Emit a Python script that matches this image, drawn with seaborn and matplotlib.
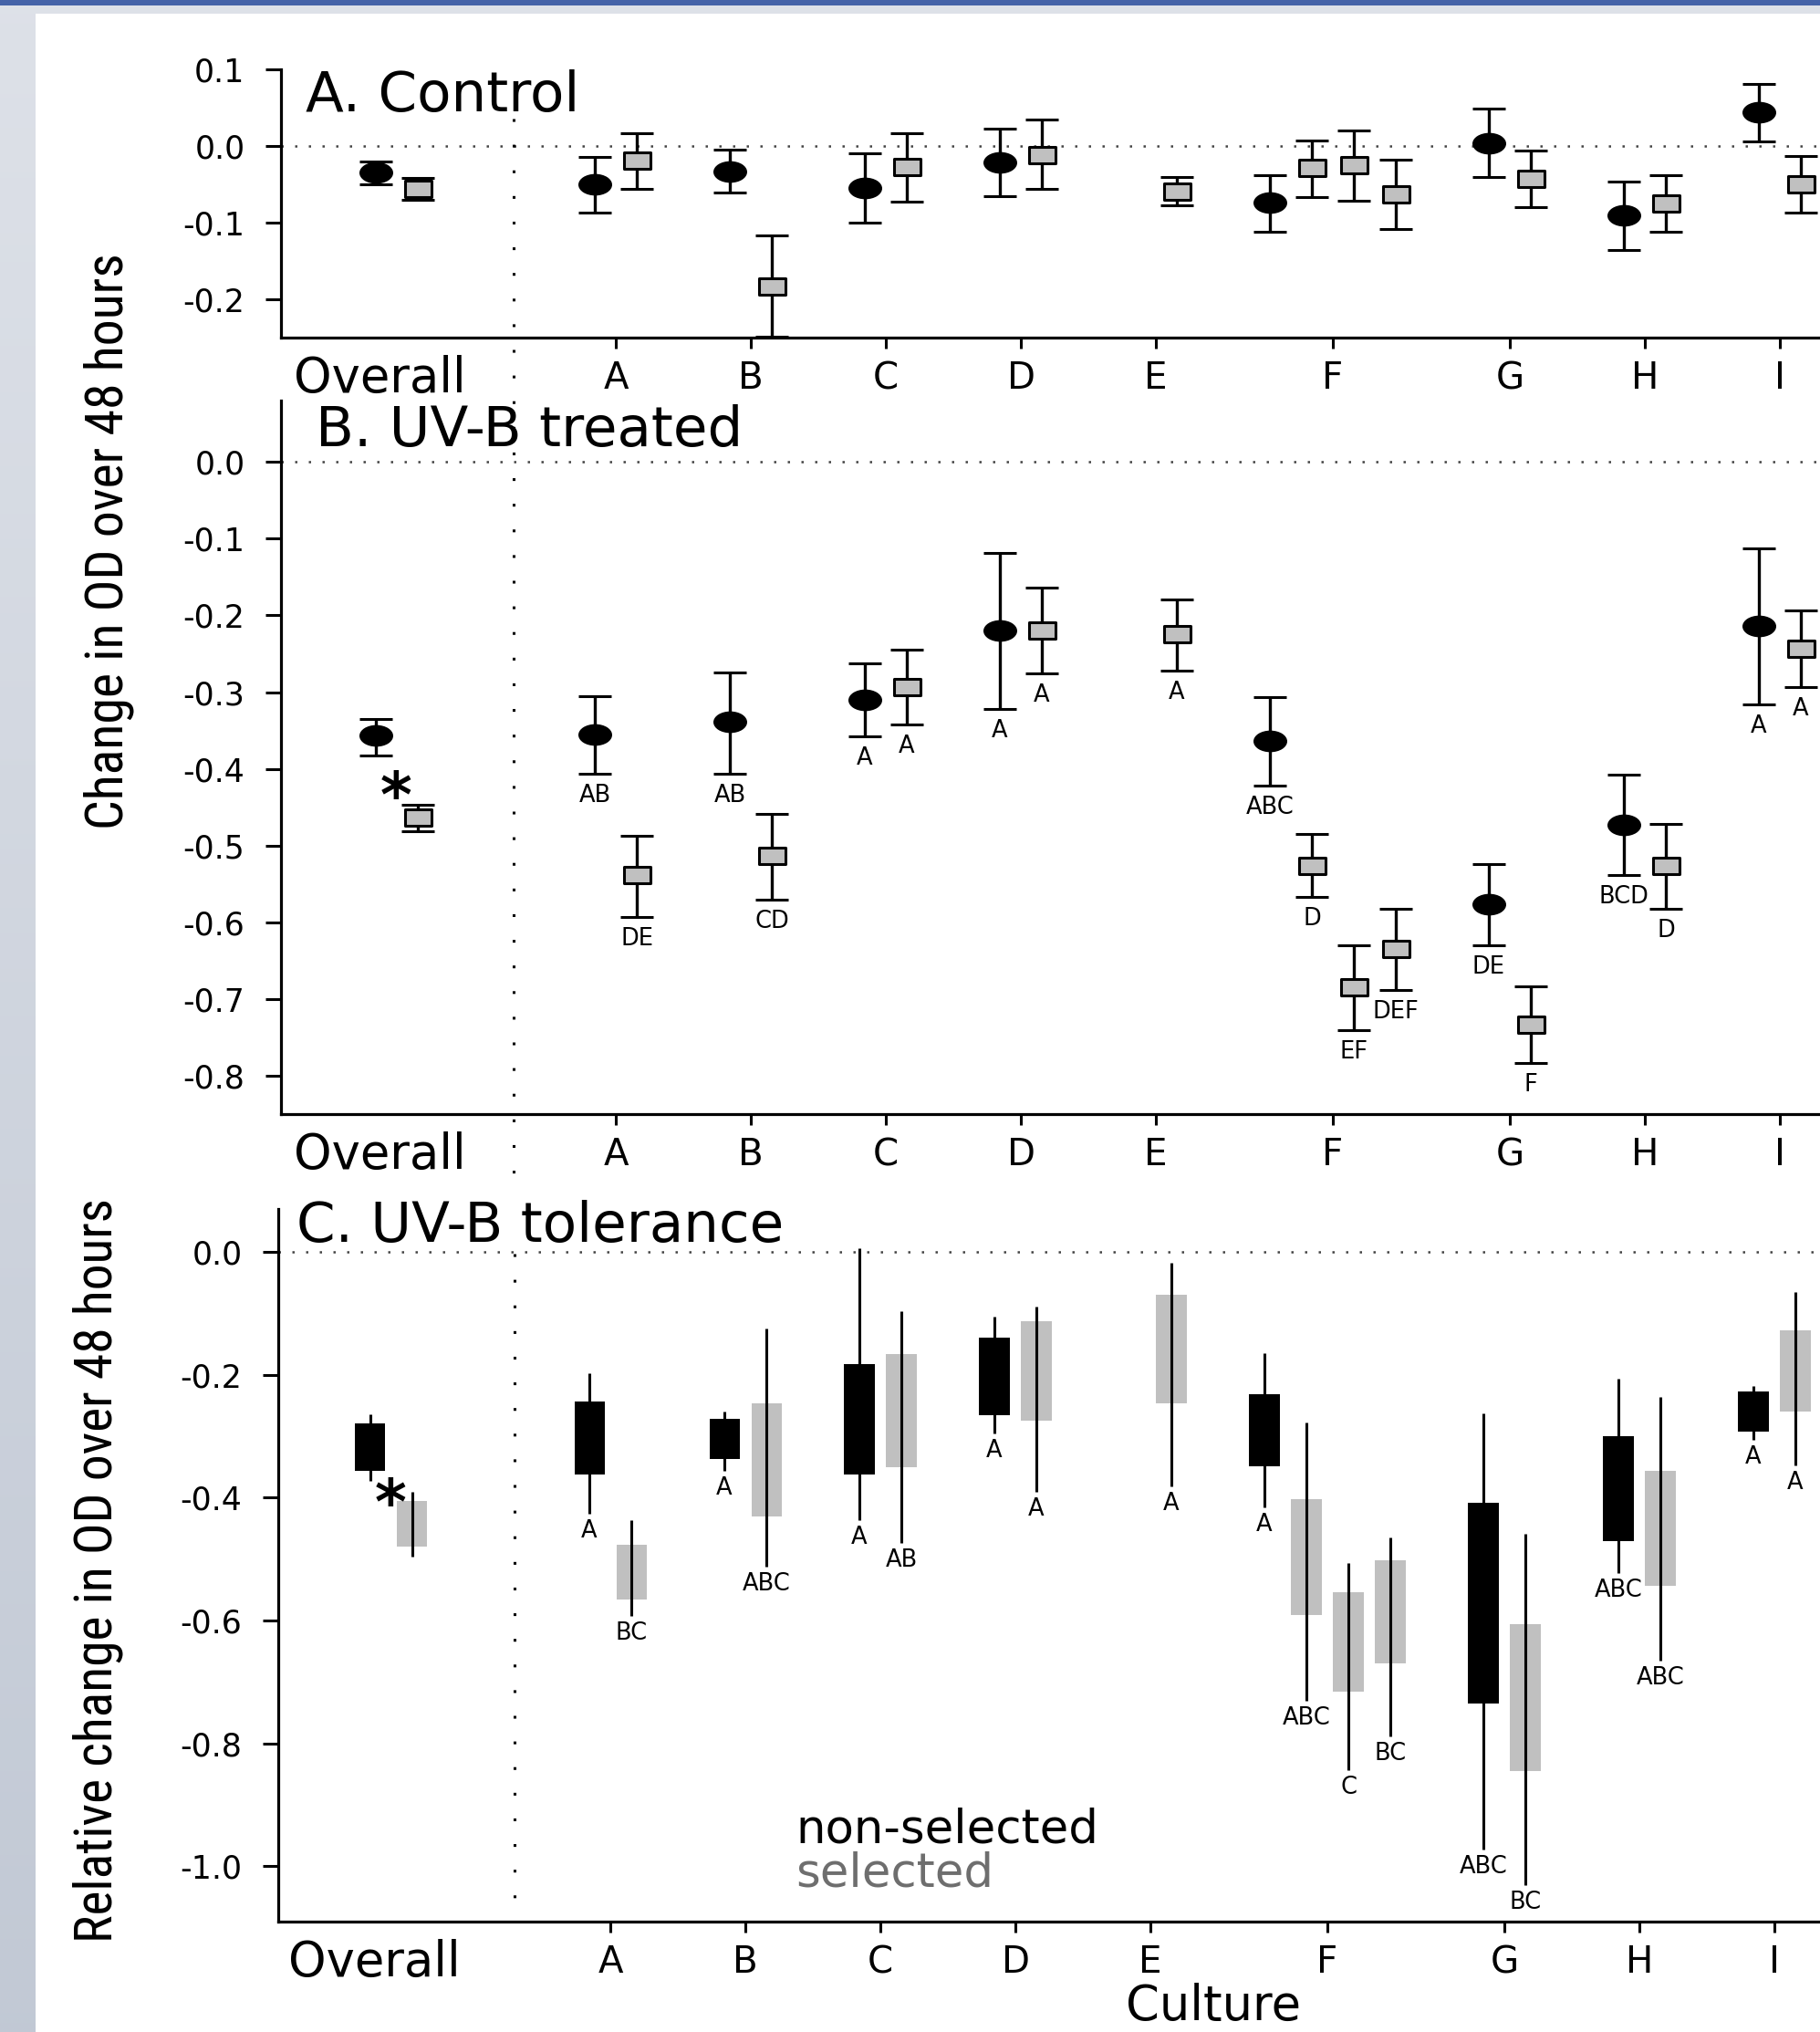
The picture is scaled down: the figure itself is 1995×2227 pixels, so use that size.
import numpy as np
import pandas as pd
import matplotlib
matplotlib.use("Agg")
import matplotlib.pyplot as plt
import seaborn as sns
from matplotlib.path import Path
from matplotlib.transforms import Affine2D, blended_transform_factory
from matplotlib.patches import Rectangle
from matplotlib import font_manager as fm

# ------------------------------------------------------------------ data
x_labels = ["Overall", "A", "B", "C", "D", "E", "F", "G", "H", "I"]
cultures = ["A", "B", "C", "D", "E", "F", "G", "H", "I"]
culture_nslots = [2, 2, 2, 2, 2, 4, 2, 2, 2]

point_culture = ["A", "A", "B", "B", "C", "C", "D", "D", "E",
                 "F", "F", "F", "F", "G", "G", "H", "H", "I", "I"]
point_line = ["non", "sel", "non", "sel", "non", "sel", "non", "sel", "sel",
              "non", "sel", "sel", "sel", "non", "sel", "non", "sel", "non", "sel"]
point_slot = [0, 1, 0, 1, 0, 1, 0, 1, 1, 0, 1, 2, 3, 0, 1, 0, 1, 0, 1]
overall_line = ["non", "sel"]

# A. Control : mean, lower, upper
ctrl_mean = [-0.050, -0.019, -0.033, -0.183, -0.055, -0.027, -0.021, -0.012, -0.059,
             -0.074, -0.029, -0.025, -0.063, 0.004, -0.043, -0.091, -0.075, 0.044, -0.050]
ctrl_lo = [-0.087, -0.056, -0.061, -0.249, -0.100, -0.073, -0.066, -0.056, -0.077,
           -0.112, -0.067, -0.071, -0.108, -0.041, -0.080, -0.136, -0.112, 0.006, -0.087]
ctrl_hi = [-0.014, 0.017, -0.005, -0.117, -0.010, 0.017, 0.023, 0.034, -0.041,
           -0.038, 0.007, 0.020, -0.018, 0.049, -0.006, -0.046, -0.038, 0.081, -0.013]
ctrl_overall_mean = [-0.034, -0.056]
ctrl_overall_lo = [-0.0495, -0.070]
ctrl_overall_hi = [-0.020, -0.0415]

# B. UV-B treated
uv_mean = [-0.355, -0.539, -0.339, -0.514, -0.310, -0.294, -0.220, -0.220, -0.225,
           -0.363, -0.526, -0.685, -0.635, -0.576, -0.733, -0.473, -0.526, -0.214, -0.244]
uv_lo = [-0.407, -0.593, -0.406, -0.570, -0.358, -0.342, -0.322, -0.276, -0.272,
         -0.422, -0.567, -0.741, -0.688, -0.630, -0.783, -0.539, -0.583, -0.316, -0.294]
uv_hi = [-0.305, -0.487, -0.274, -0.459, -0.262, -0.245, -0.119, -0.164, -0.179,
         -0.306, -0.485, -0.630, -0.583, -0.524, -0.683, -0.408, -0.472, -0.113, -0.194]
uv_letters = ["AB", "DE", "AB", "CD", "A", "A", "A", "A", "A",
              "ABC", "D", "EF", "DEF", "DE", "F", "BCD", "D", "A", "A"]
uv_overall_mean = [-0.357, -0.464]
uv_overall_lo = [-0.383, -0.481]
uv_overall_hi = [-0.335, -0.447]

# C. UV-B tolerance : box top/bottom, whisker top/bottom
tol_box_top = [-0.244, -0.477, -0.271, -0.247, -0.182, -0.166, -0.139, -0.113, -0.069,
               -0.231, -0.402, -0.554, -0.502, -0.409, -0.606, -0.300, -0.357, -0.227, -0.128]
tol_box_bot = [-0.362, -0.566, -0.337, -0.430, -0.362, -0.351, -0.265, -0.274, -0.247,
               -0.349, -0.591, -0.715, -0.670, -0.735, -0.845, -0.470, -0.543, -0.292, -0.259]
tol_wh_top = [-0.197, -0.436, -0.259, -0.125, 0.006, -0.096, -0.106, -0.089, -0.018,
              -0.165, -0.277, -0.507, -0.465, -0.262, -0.459, -0.206, -0.236, -0.218, -0.065]
tol_wh_bot = [-0.426, -0.592, -0.357, -0.512, -0.436, -0.473, -0.295, -0.391, -0.382,
              -0.415, -0.731, -0.843, -0.788, -0.972, -1.031, -0.523, -0.665, -0.306, -0.348]
tol_letters = ["A", "BC", "A", "ABC", "A", "AB", "A", "A", "A",
               "A", "ABC", "C", "BC", "ABC", "BC", "ABC", "ABC", "A", "A"]
tol_overall_box_top = [-0.279, -0.405]
tol_overall_box_bot = [-0.356, -0.479]
tol_overall_wh_top = [-0.264, -0.391]
tol_overall_wh_bot = [-0.373, -0.496]

# ------------------------------------------------------------------ style
sns.set_style("ticks")
plt.rcParams["font.family"] = ["DejaVu Sans"]
plt.rcParams["axes.linewidth"] = 2.3
for k in ("text.color", "axes.labelcolor", "xtick.color", "ytick.color",
          "axes.edgecolor"):
    plt.rcParams[k] = "black"

W, H, DPI = 1995, 2227, 100
PT = 72.0 / DPI
GRAY = "#c0c0c0"


def fx(x):
    return x / W


def fy(y):
    return 1 - y / H


# x layout (slot units)
SLOT_GAP = 1.217
centers = []
c = 5.23
for i, n in enumerate(culture_nslots):
    if i > 0:
        c += culture_nslots[i - 1] / 2 + SLOT_GAP + n / 2
    centers.append(c)
center_of = dict(zip(cultures, centers))
nslots_of = dict(zip(cultures, culture_nslots))
point_x = [center_of[cu] + (s - (nslots_of[cu] - 1) / 2)
           for cu, s in zip(point_culture, point_slot)]
overall_x = [-0.5, 0.5]
overall_label_x = -0.4
tick_pos = [overall_label_x] + centers

ELLIPSE = Path.unit_circle().transformed(Affine2D().scale(1, 0.64))
RECT = Path([(-1, -0.64), (1, -0.64), (1, 0.64), (-1, 0.64), (-1, -0.64)],
            [Path.MOVETO, Path.LINETO, Path.LINETO, Path.LINETO, Path.CLOSEPOLY])
ELL_S = (37 * PT) ** 2
RECT_S = (29 * PT) ** 2

fig = plt.figure(figsize=(W / DPI, H / DPI), dpi=DPI)
fig.patch.set_facecolor("white")

# slide decoration
bg = fig.add_axes([0, 0, 1, 1], zorder=-10)
bg.axis("off")
grad = np.linspace(0, 1, 256)[:, None, None]
top_c = np.array([0.867, 0.882, 0.910])
bot_c = np.array([0.760, 0.788, 0.835])
img = top_c * (1 - grad) + bot_c * grad
bg.imshow(img, extent=[0, 38.5, H, 15], aspect="auto", interpolation="bilinear")
bg.add_patch(Rectangle((0, 0), W, 15, color="#dde1e8", lw=0))
bg.add_patch(Rectangle((0, 0), W, 5.5, color="#4563a8", lw=0))
bg.set_xlim(0, W)
bg.set_ylim(H, 0)

axA = fig.add_axes([fx(308), fy(370), 1732 / W, 294 / H])
axB = fig.add_axes([fx(308), fy(1221), 1732 / W, 782 / H])
axC = fig.add_axes([fx(305), fy(2106), 1735 / W, 781 / H])

SLOT_PX = 46.0
xlims = {axA: (-2.75, -2.75 + 1732 / SLOT_PX),
         axB: (-2.75, -2.75 + 1732 / SLOT_PX),
         axC: (-2.685, -2.685 + 1735 / SLOT_PX)}


def base_axes(ax, ylim, yticks):
    ax.set_facecolor("none")
    for s in ("top", "right"):
        ax.spines[s].set_visible(False)
    for s in ("left", "bottom"):
        ax.spines[s].set_linewidth(2.3)
        ax.spines[s].set_color("black")
    ax.axhline(0, color="#444444", lw=1.8, ls=(0, (1, 5)), zorder=1)
    ax.set_ylim(*ylim)
    ax.set_yticks(yticks)
    ax.set_yticklabels([f"{v:.1f}" for v in yticks])
    ax.set_xticks(tick_pos)
    ax.set_xticklabels(x_labels)
    ax.tick_params(axis="y", length=12.5, width=2.2, pad=16, labelsize=25,
                   direction="out", color="black", labelcolor="black")
    ax.tick_params(axis="x", length=8.6, width=2.2, pad=24, labelsize=29,
                   direction="out", color="black", labelcolor="black")
    for i, lbl in enumerate(ax.get_xticklabels()):
        lbl.set_va("center")
        if i == 0:
            lbl.set_fontsize(38)
    ax.xaxis.get_major_ticks()[0].tick1line.set_visible(False)
    ax.set_xlim(*xlims[ax])
    ax.set_xlabel("")
    ax.set_ylabel("")


def draw_points(ax, xs, mean, lo, hi, lines):
    df = pd.DataFrame(dict(x=xs, y=mean, lo=lo, hi=hi, line=lines))
    ax.errorbar(df.x, df.y, yerr=[df.y - df.lo, df.hi - df.y], fmt="none",
                ecolor="black", elinewidth=2.4, capsize=13.3, capthick=2.2, zorder=2)
    non = df[df.line == "non"]
    sel = df[df.line == "sel"]
    sns.scatterplot(data=non, x="x", y="y", marker=ELLIPSE, s=ELL_S, color="black",
                    edgecolor="black", linewidth=0, ax=ax, zorder=4, legend=False)
    sns.scatterplot(data=sel, x="x", y="y", marker=RECT, s=RECT_S, color=GRAY,
                    edgecolor="black", linewidth=2.2, ax=ax, zorder=4, legend=False)


# ---- panel A
draw_points(axA, point_x + overall_x, ctrl_mean + ctrl_overall_mean,
            ctrl_lo + ctrl_overall_lo, ctrl_hi + ctrl_overall_hi,
            point_line + overall_line)
base_axes(axA, (-0.25, 0.1), [0.1, 0.0, -0.1, -0.2])

# ---- panel B
draw_points(axB, point_x + overall_x, uv_mean + uv_overall_mean,
            uv_lo + uv_overall_lo, uv_hi + uv_overall_hi,
            point_line + overall_line)
for x, lo, lab in zip(point_x, uv_lo, uv_letters):
    axB.annotate(lab, (x, lo), xytext=(0, -24 * PT), textcoords="offset points",
                 ha="center", va="center", fontsize=18.5)
axB.annotate("*", (0, -0.416), xytext=(0, -28), textcoords="offset points",
             ha="center", va="baseline", fontsize=48, fontweight="bold")
base_axes(axB, (-0.85, 0.08), [round(-0.1 * k, 1) + 0.0 for k in range(9)])

# ---- panel C
tol = pd.DataFrame(dict(x=point_x + overall_x,
                        top=tol_box_top + tol_overall_box_top,
                        bot=tol_box_bot + tol_overall_box_bot,
                        wt=tol_wh_top + tol_overall_wh_top,
                        wb=tol_wh_bot + tol_overall_wh_bot,
                        line=point_line + overall_line))
for _, r in tol.iterrows():
    is_non = r.line == "non"
    axC.bar(r.x, r.top - r.bot, bottom=r.bot, width=0.72,
            color="black" if is_non else GRAY, lw=0, zorder=3 if is_non else 2)
    axC.vlines(r.x, r.wb, r.wt, colors="black", lw=2.2, zorder=2 if is_non else 3)
for x, wb, lab in zip(point_x, tol_wh_bot, tol_letters):
    axC.annotate(lab, (x, wb), xytext=(0, -19 * PT), textcoords="offset points",
                 ha="center", va="center", fontsize=18.5)
axC.annotate("*", (0, -0.384), xytext=(0, -28), textcoords="offset points",
             ha="center", va="baseline", fontsize=48, fontweight="bold")
base_axes(axC, (-1.09, 0.07), [0.0, -0.2, -0.4, -0.6, -0.8, -1.0])

# ---- dotted dividers
trA = blended_transform_factory(axA.transData, axA.transAxes)
axA.plot([2.79, 2.79], [0.816, -3.146], transform=trA, clip_on=False,
         color="black", lw=2.2, ls=(0, (1, 8.2)), zorder=1)
trC = blended_transform_factory(axC.transData, axC.transAxes)
axC.plot([2.95, 2.95], [0.937, 0.026], transform=trC, clip_on=False,
         color="black", lw=2.2, ls=(0, (1, 8.2)), zorder=1)
for ax in (axA, axB, axC):
    ax.set_xlim(*xlims[ax])

# ---- titles, legend text, axis titles
fig.text(fx(335), fy(122), "A. Control", fontsize=44, ha="left", va="baseline")
fig.text(fx(346), fy(489), "B. UV-B treated", fontsize=44, ha="left", va="baseline")
fig.text(fx(325), fy(1361), "C. UV-B tolerance", fontsize=44, ha="left", va="baseline")
fig.text(fx(872), fy(2020), "non-selected", fontsize=37, ha="left", va="baseline",
         color="black")
fig.text(fx(872), fy(2068), "selected", fontsize=37, ha="left", va="baseline",
         color="#6e6e6e")
fig.text(fx(1330), fy(2214), "Culture", fontsize=38, ha="center", va="baseline")

# narrow font for the rotated axis titles
entries = fm.fontManager.ttflist
names = {f.name for f in entries}
cond_fams = {f.name for f in entries if str(f.stretch) != "normal"
             and "expanded" not in str(f.stretch)}
ykw = {}
for fam in ("Liberation Sans Narrow", "Noto Sans", "Roboto Condensed", "Roboto",
            "Open Sans", "DejaVu Sans", "Liberation Sans"):
    if fam in cond_fams:
        ykw = {"family": fam, "fontstretch": "condensed"}
        break
if not ykw:
    others = sorted(n for n in names if ("Narrow" in n or "Condensed" in n))
    if others:
        ykw = {"family": others[0]}
    else:
        ykw = {"family": "Liberation Sans" if "Liberation Sans" in names else "DejaVu Sans"}

yl1 = fig.text(fx(147), fy(593), "Change in OD over 48 hours", rotation=90,
               ha="right", va="center", fontsize=40, **ykw)
yl2 = fig.text(fx(135), fy(1721), "Relative change in OD over 48 hours", rotation=90,
               ha="right", va="center", fontsize=40, **ykw)
fig.canvas.draw()
rend = fig.canvas.get_renderer()
for t, target in ((yl1, 632), (yl2, 815)):
    h = t.get_window_extent(rend).height
    t.set_fontsize(t.get_fontsize() * target / h)

fig.savefig("out.png", dpi=DPI)
